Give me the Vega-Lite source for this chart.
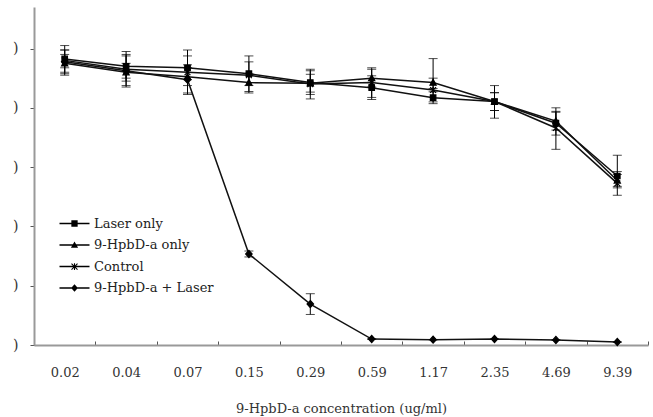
{
  "$schema": "https://vega.github.io/schema/vega-lite/v6.json",
  "width": 614,
  "height": 338,
  "autosize": {"type": "none"},
  "padding": {"left": 34, "top": 7, "right": 5, "bottom": 72},
  "background": "white",
  "config": {
    "view": {"stroke": null},
    "font": "DejaVu Serif",
    "axis": {"labelFont": "DejaVu Serif", "titleFont": "DejaVu Serif", "labelColor": "#333", "titleColor": "#333", "titleFontWeight": "normal", "grid": false}
  },
  "resolve": {"scale": {"shape": "independent"}},
  "data": {
    "values": [
      {"series": "Laser only", "conc": "0.02", "y": 96.5, "lo": 93.5, "hi": 99.5},
      {"series": "Laser only", "conc": "0.04", "y": 94.0, "lo": 90.0, "hi": 98.0},
      {"series": "Laser only", "conc": "0.07", "y": 93.5, "lo": 89.5, "hi": 97.5},
      {"series": "Laser only", "conc": "0.15", "y": 91.5, "lo": 87.5, "hi": 95.5},
      {"series": "Laser only", "conc": "0.29", "y": 88.5, "lo": 84.5, "hi": 92.5},
      {"series": "Laser only", "conc": "0.59", "y": 86.8, "lo": 82.8, "hi": 90.8},
      {"series": "Laser only", "conc": "1.17", "y": 83.4, "lo": 81.4, "hi": 85.4},
      {"series": "Laser only", "conc": "2.35", "y": 82.1, "lo": 79.1, "hi": 85.1},
      {"series": "Laser only", "conc": "4.69", "y": 74.8, "lo": 70.8, "hi": 78.8},
      {"series": "Laser only", "conc": "9.39", "y": 57.0, "lo": 53.0, "hi": 64.0},
      {"series": "9-HpbD-a only", "conc": "0.02", "y": 95.0, "lo": 92.0, "hi": 98.0},
      {"series": "9-HpbD-a only", "conc": "0.04", "y": 92.0, "lo": 89.0, "hi": 95.0},
      {"series": "9-HpbD-a only", "conc": "0.07", "y": 90.5, "lo": 87.5, "hi": 93.5},
      {"series": "9-HpbD-a only", "conc": "0.15", "y": 88.5, "lo": 85.5, "hi": 91.5},
      {"series": "9-HpbD-a only", "conc": "0.29", "y": 88.3, "lo": 85.3, "hi": 91.3},
      {"series": "9-HpbD-a only", "conc": "0.59", "y": 90.0, "lo": 87.0, "hi": 93.0},
      {"series": "9-HpbD-a only", "conc": "1.17", "y": 88.5, "lo": 86.5, "hi": 96.6},
      {"series": "9-HpbD-a only", "conc": "2.35", "y": 82.1, "lo": 79.1, "hi": 85.1},
      {"series": "9-HpbD-a only", "conc": "4.69", "y": 75.5, "lo": 72.5, "hi": 78.5},
      {"series": "9-HpbD-a only", "conc": "9.39", "y": 55.5, "lo": 53.5, "hi": 57.5},
      {"series": "Control", "conc": "0.02", "y": 96.0, "lo": 91.0, "hi": 101.0},
      {"series": "Control", "conc": "0.04", "y": 93.0, "lo": 87.0, "hi": 99.0},
      {"series": "Control", "conc": "0.07", "y": 92.0, "lo": 85.0, "hi": 99.5},
      {"series": "Control", "conc": "0.15", "y": 91.0, "lo": 85.0, "hi": 97.5},
      {"series": "Control", "conc": "0.29", "y": 88.0, "lo": 83.0, "hi": 93.0},
      {"series": "Control", "conc": "0.59", "y": 88.5, "lo": 83.5, "hi": 93.5},
      {"series": "Control", "conc": "1.17", "y": 86.0, "lo": 82.0, "hi": 90.0},
      {"series": "Control", "conc": "2.35", "y": 82.1, "lo": 76.5, "hi": 87.5},
      {"series": "Control", "conc": "4.69", "y": 73.2, "lo": 66.0, "hi": 80.0},
      {"series": "Control", "conc": "9.39", "y": 54.5, "lo": 50.5, "hi": 58.5},
      {"series": "9-HpbD-a + Laser", "conc": "0.02", "y": 95.5, "lo": 91.5, "hi": 99.5},
      {"series": "9-HpbD-a + Laser", "conc": "0.04", "y": 92.5, "lo": 87.5, "hi": 97.5},
      {"series": "9-HpbD-a + Laser", "conc": "0.07", "y": 89.5, "lo": 84.5, "hi": 94.5},
      {"series": "9-HpbD-a + Laser", "conc": "0.15", "y": 30.7, "lo": 29.7, "hi": 31.7},
      {"series": "9-HpbD-a + Laser", "conc": "0.29", "y": 13.8, "lo": 10.3, "hi": 17.3},
      {"series": "9-HpbD-a + Laser", "conc": "0.59", "y": 2.0, "lo": 2.0, "hi": 2.0},
      {"series": "9-HpbD-a + Laser", "conc": "1.17", "y": 1.8, "lo": 1.8, "hi": 1.8},
      {"series": "9-HpbD-a + Laser", "conc": "2.35", "y": 2.0, "lo": 2.0, "hi": 2.0},
      {"series": "9-HpbD-a + Laser", "conc": "4.69", "y": 1.7, "lo": 1.7, "hi": 1.7},
      {"series": "9-HpbD-a + Laser", "conc": "9.39", "y": 1.0, "lo": 1.0, "hi": 1.0}
    ]
  },
  "encoding": {
    "x": {
      "field": "conc", "type": "ordinal", "sort": null,
      "scale": {"type": "band", "paddingInner": 0, "paddingOuter": 0, "domain": ["0.02","0.04","0.07","0.15","0.29","0.59","1.17","2.35","4.69","9.39"]},
      "axis": {"labelAngle": 0, "tickBand": "extent", "tickSize": -4, "tickColor": "#555", "domainColor": "#999", "domainWidth": 2, "labelFontSize": 13, "labelPadding": 25, "title": "9-HpbD-a concentration (ug/ml)", "titleFontSize": 13, "titlePadding": 23}
    }
  },
  "layer": [
    {
      "mark": {"type": "rule", "color": "#000", "strokeWidth": 1},
      "encoding": {
        "y": {"field": "lo", "type": "quantitative", "scale": {"domain": [0, 114], "nice": false},
          "axis": {"values": [0, 20, 40, 60, 80, 100], "labelExpr": "')'", "tickSize": 4, "tickColor": "#555", "domainColor": "#999", "domainWidth": 2, "labelFontSize": 14, "labelPadding": 12, "title": null}},
        "y2": {"field": "hi"}
      }
    },
    {
      "mark": {"type": "tick", "color": "#000", "thickness": 1, "size": 9},
      "encoding": {"y": {"field": "lo", "type": "quantitative"}}
    },
    {
      "mark": {"type": "tick", "color": "#000", "thickness": 1, "size": 9},
      "encoding": {"y": {"field": "hi", "type": "quantitative"}}
    },
    {
      "mark": {"type": "line", "color": "#111", "strokeWidth": 1.5},
      "encoding": {
        "y": {"field": "y", "type": "quantitative"},
        "detail": {"field": "series"}
      }
    },
    {
      "mark": {"type": "point", "filled": true, "fill": "#000", "stroke": "#000", "strokeWidth": 1.2, "size": 42, "opacity": 1},
      "encoding": {
        "y": {"field": "y", "type": "quantitative"},
        "shape": {
          "field": "series", "type": "nominal",
          "scale": {
            "domain": ["Laser only", "9-HpbD-a only", "Control", "9-HpbD-a + Laser"],
            "range": ["M-0.85,-0.85H0.85V0.85H-0.85Z", "M0,-1L0.95,0.8H-0.95Z", "M-0.9,-0.9L0.9,0.9M-0.9,0.9L0.9,-0.9M0,-0.9V0.9", "M0,-1.1L1,0L0,1.1L-1,0Z"]
          },
          "legend": null
        }
      }
    },
    {
      "transform": [{"filter": "false"}],
      "mark": {"type": "point", "filled": true, "color": "#000", "opacity": 1},
      "encoding": {
        "y": {"field": "y", "type": "quantitative"},
        "shape": {
          "field": "series", "type": "nominal",
          "scale": {
            "domain": ["Laser only", "9-HpbD-a only", "Control", "9-HpbD-a + Laser"],
            "range": [
              "M-2,-0.1H2V0.1H-2Z M-0.42,-0.42H0.42V0.42H-0.42Z",
              "M-2,-0.1H2V0.1H-2Z M0,-0.48L0.48,0.38H-0.48Z",
              "M-2,-0.1H2V0.1H-2Z M-0.45,-0.35L-0.35,-0.45L0.45,0.35L0.35,0.45Z M-0.45,0.35L0.35,-0.45L0.45,-0.35L-0.35,0.45Z M-0.07,-0.45H0.07V0.45H-0.07Z",
              "M-2,-0.1H2V0.1H-2Z M0,-0.5L0.45,0L0,0.5L-0.45,0Z"
            ]
          },
          "legend": {
            "title": null, "orient": "none", "legendX": 33, "legendY": 209,
            "padding": 0, "symbolSize": 225, "rowPadding": 6.5, "labelOffset": 12,
            "labelFont": "DejaVu Serif", "labelFontSize": 13, "labelColor": "#222",
            "symbolOpacity": 1, "symbolStrokeWidth": 0
          }
        }
      }
    }
  ]
}
